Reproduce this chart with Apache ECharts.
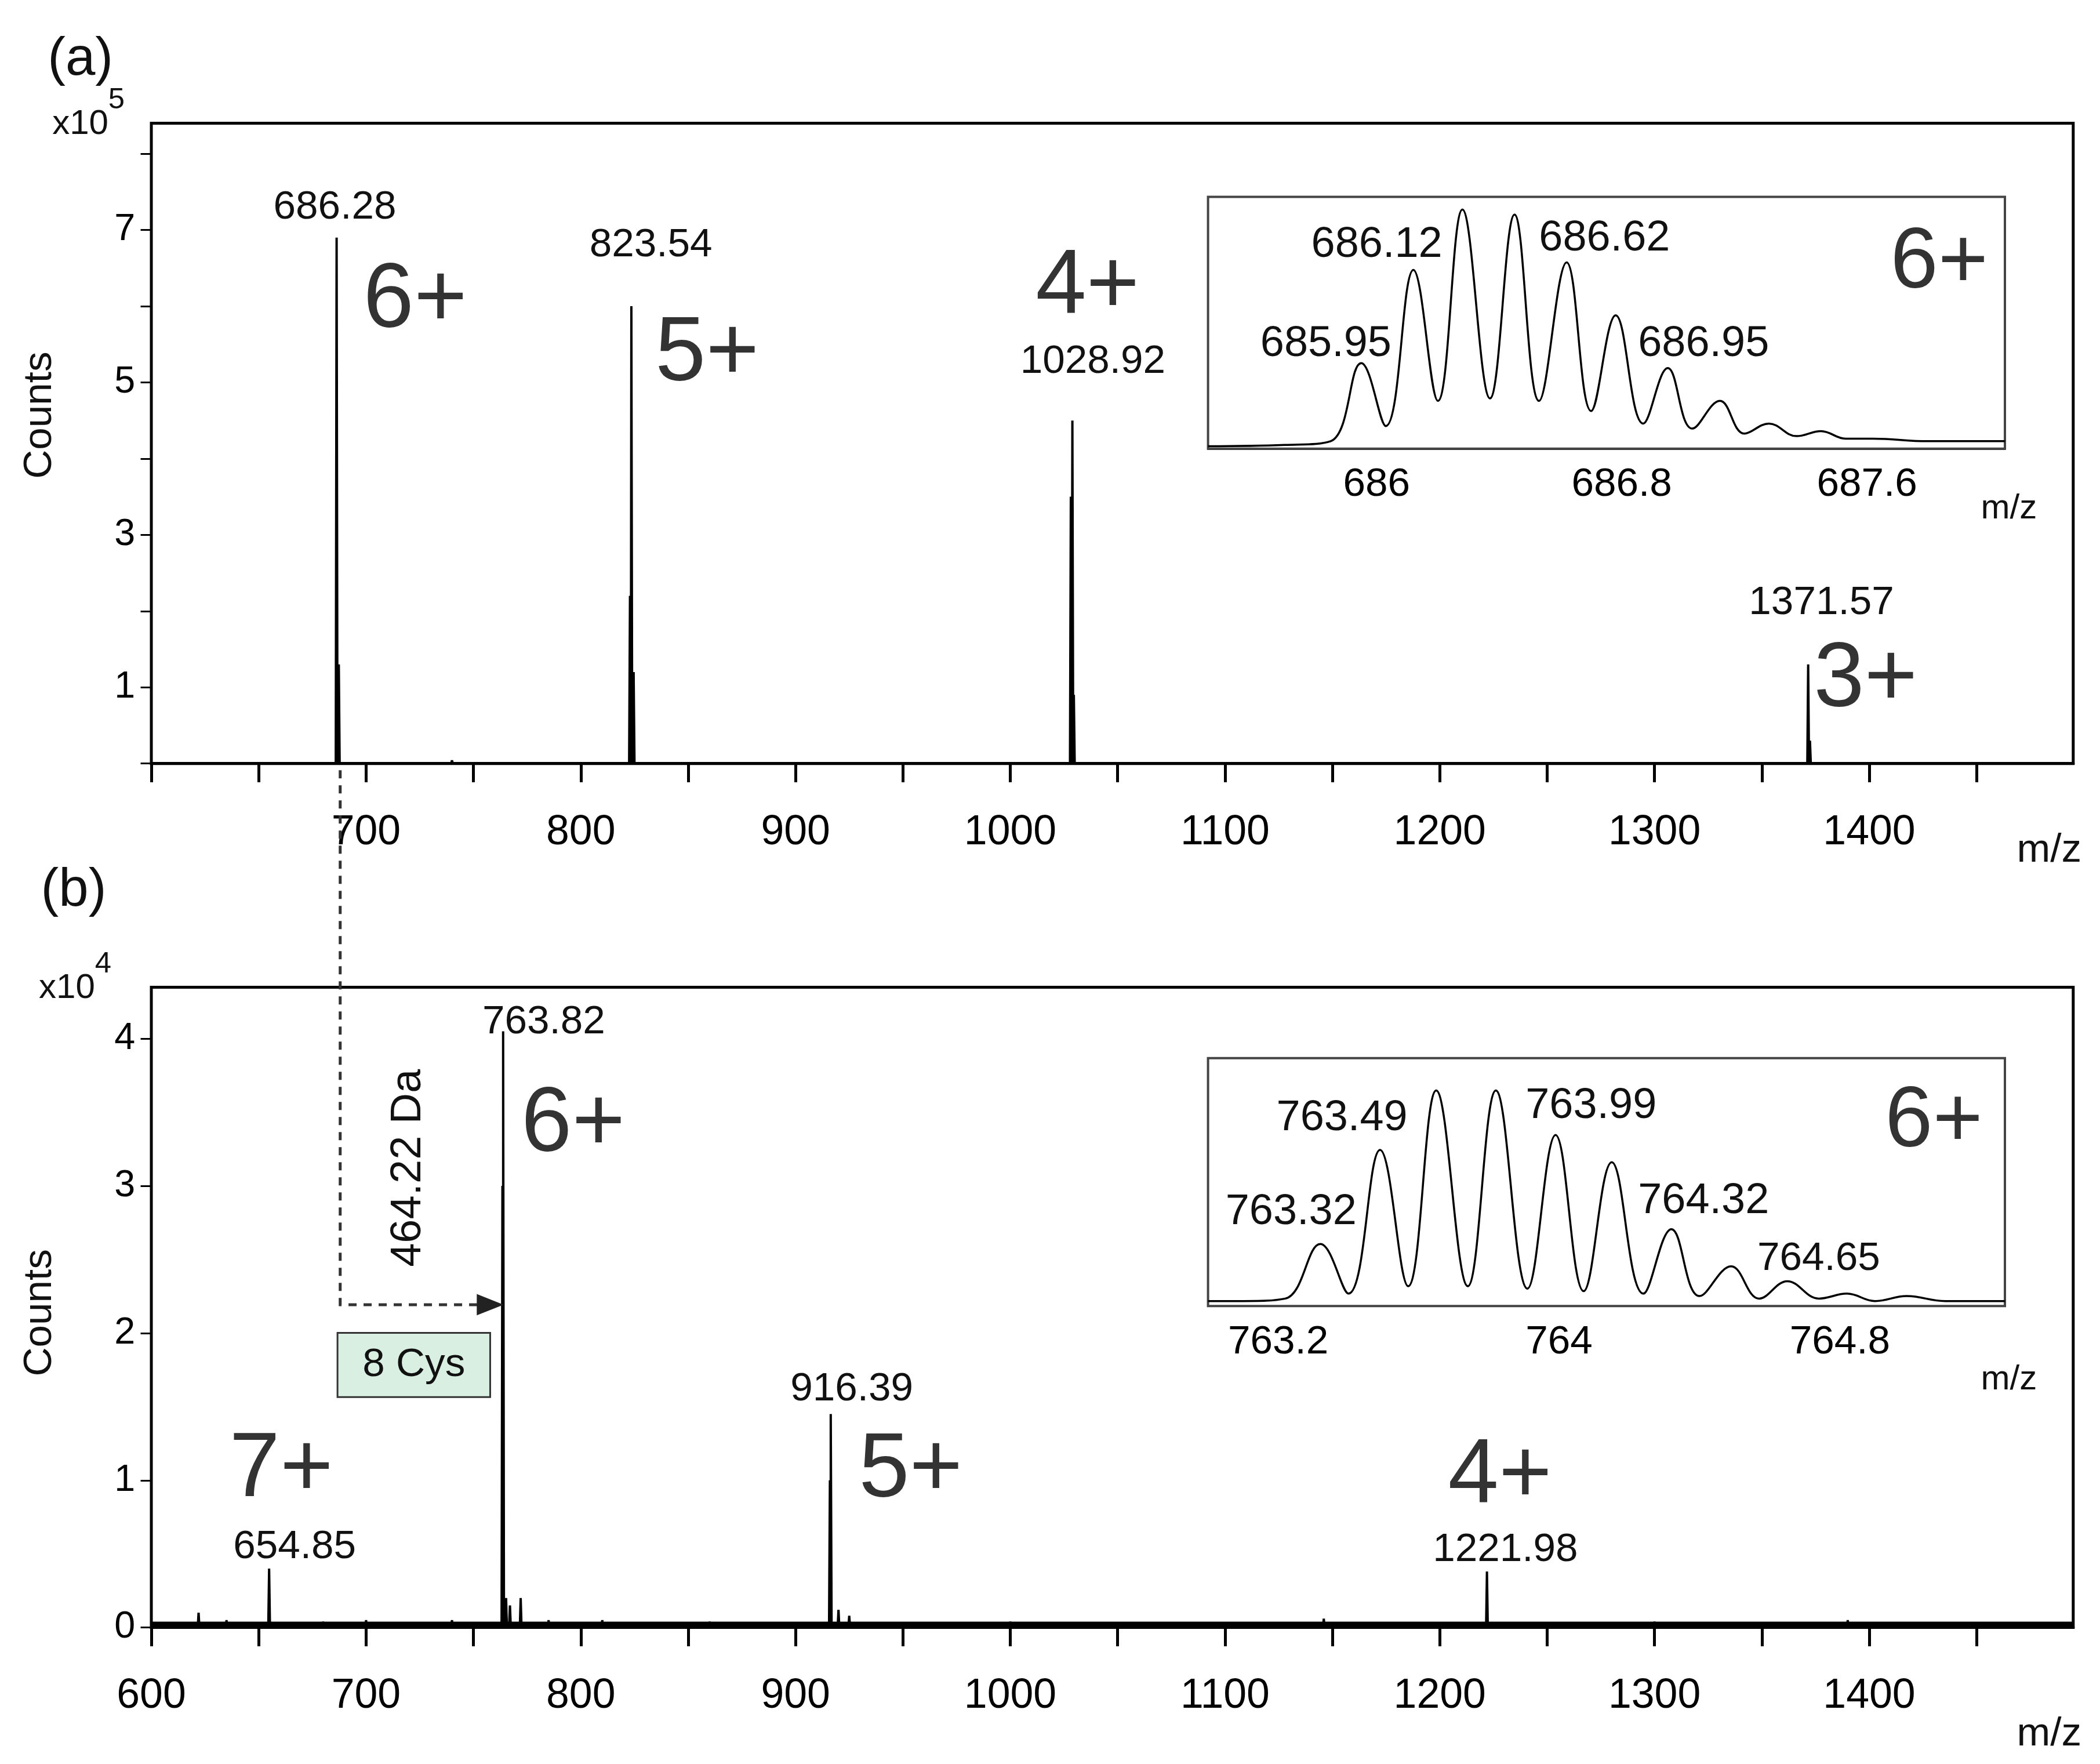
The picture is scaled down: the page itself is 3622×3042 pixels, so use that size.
<!DOCTYPE html>
<html><head><meta charset="utf-8">
<script src="https://cdn.jsdelivr.net/npm/echarts@6/dist/echarts.min.js"></script>
<style>html,body{margin:0;padding:0;background:#fff}#c{width:3622px;height:3042px}</style>
</head><body><div id="c"></div>
<script>
// Panel (a) main peaks: m/z and counts (x10^5)
const aMz = [686.28, 687.3, 740, 822.9, 823.54, 824.6, 1028.2, 1028.92, 1029.6, 1371.57, 1372.4];
const aCnt = [6.9, 1.3, 0.04, 2.2, 6.0, 1.2, 3.5, 4.5, 0.9, 1.3, 0.3];
// Panel (b) main peaks: counts (x10^4)
const bMz = [622, 635, 654.85, 680, 700, 740, 763.5, 763.82, 765.2, 767, 772, 785, 810, 860, 916.0, 916.39, 920, 925, 1000, 1146, 1221.98, 1300, 1390];
const bCnt = [0.1, 0.05, 0.4, 0.04, 0.05, 0.05, 3.0, 4.05, 0.2, 0.15, 0.2, 0.05, 0.05, 0.04, 1.0, 1.45, 0.12, 0.08, 0.04, 0.06, 0.38, 0.04, 0.05];
// Inset (a) isotope profile (relative)
const iaMz = [685.45, 685.7, 685.85, 685.95, 686.03, 686.12, 686.2, 686.28, 686.37, 686.45, 686.53, 686.62, 686.7, 686.78, 686.87, 686.95, 687.03, 687.12, 687.2, 687.28, 687.37, 687.45, 687.53, 687.62, 687.8, 688.05];
const iaInt = [0.01, 0.015, 0.03, 0.34, 0.09, 0.71, 0.19, 0.95, 0.2, 0.93, 0.19, 0.74, 0.15, 0.53, 0.1, 0.32, 0.08, 0.19, 0.06, 0.1, 0.05, 0.07, 0.04, 0.04, 0.03, 0.03];
// Inset (b) isotope profile (relative)
const ibMz = [763.0, 763.1, 763.22, 763.32, 763.4, 763.49, 763.57, 763.65, 763.74, 763.82, 763.91, 763.99, 764.07, 764.15, 764.24, 764.32, 764.4, 764.49, 764.57, 764.65, 764.74, 764.82, 764.9, 764.99, 765.1, 765.27];
const ibInt = [0.02, 0.02, 0.03, 0.25, 0.05, 0.63, 0.08, 0.87, 0.08, 0.87, 0.07, 0.69, 0.06, 0.58, 0.05, 0.31, 0.04, 0.16, 0.03, 0.1, 0.03, 0.05, 0.02, 0.04, 0.02, 0.02];

const S = 3622/1568;
const P = v => v*S;
function sticks(mz, cnt, w){
  const d = [[600,0]];
  mz.forEach((m,i)=>{ d.push([m-w,0],[m,cnt[i]],[m+w,0]); });
  d.push([1495,0]);
  return d;
}
const FONT = '"Liberation Sans", Arial, sans-serif';
const tickFmt = (hide600) => v => (v%100===0 && !(hide600 && v===600)) ? String(v) : '';
function mainX(gi, hide600, margin){
  return {gridIndex:gi, type:'value', min:600, max:1495, interval:50,
    axisLine:{onZero:false, lineStyle:{color:'#000', width:5}},
    axisTick:{length:P(14), lineStyle:{color:'#000', width:5}},
    axisLabel:{formatter:tickFmt(hide600), color:'#000', fontSize:P(31), fontFamily:FONT, margin:P(margin), showMaxLabel:false},
    splitLine:{show:false}};
}
function insetX(gi, min, max, mod){
  return {gridIndex:gi, type:'value', min:min, max:max, interval:0.05,
    axisLine:{onZero:false, lineStyle:{color:'#000', width:3}},
    axisTick:{inside:true, length:P(6), lineStyle:{color:'#000', width:2}},
    axisLabel:{formatter:v=>{const k=Math.round(v*20); return k%16===mod ? String(Math.round(v*10)/10) : '';}, color:'#000', fontSize:P(30), fontFamily:FONT, margin:P(12), showMaxLabel:false, showMinLabel:false},
    splitLine:{show:false}};
}
function insetY(gi){
  return {gridIndex:gi, type:'value', min:0, max:1, interval:0.1,
    axisLine:{lineStyle:{color:'#000', width:3}},
    axisTick:{inside:true, length:P(6), lineStyle:{color:'#000', width:2}},
    axisLabel:{show:false}, splitLine:{show:false}};
}
const chart = echarts.init(document.getElementById('c'));
const txt = (t,x,y,fs,extra) => ({type:'text', z:100, style:Object.assign({text:t, x:P(x), y:P(y), font:`${P(fs)}px ${FONT}`, fill:'#111', textAlign:'center', textVerticalAlign:'middle'}, extra||{})});
const big = (t,x,y,fs) => txt(t,x,y,fs||68,{fill:'#333'});
const vtxt = (t,x,y,fs) => ({type:'text', z:100, rotation:Math.PI/2, x:P(x), y:P(y), style:{text:t, font:`${P(fs)}px ${FONT}`, fill:'#111', textAlign:'center', textVerticalAlign:'middle'}});
chart.setOption({
  animation:false,
  backgroundColor:'#fff',
  grid:[
    {left:P(113), top:P(92), width:P(1435), height:P(478), show:true, borderColor:'#000', borderWidth:5},
    {left:P(113), top:P(737), width:P(1435), height:P(478), show:true, borderColor:'#000', borderWidth:5},
    {left:P(902), top:P(147), width:P(595), height:P(188), show:true, borderColor:'#444', borderWidth:4, z:5, backgroundColor:'#fff'},
    {left:P(902), top:P(790), width:P(595), height:P(185), show:true, borderColor:'#444', borderWidth:4, z:5, backgroundColor:'#fff'}
  ],
  xAxis:[mainX(0,true,36), mainX(1,false,36), insetX(2,685.45,688.05,8), insetX(3,763.0,765.27,0)],
  yAxis:[
    {gridIndex:0, type:'value', min:0, max:8.4, interval:1,
     axisLine:{show:false}, axisTick:{length:P(8), lineStyle:{color:'#000',width:3}},
     axisLabel:{formatter:v=>(v%2===1)?String(v):'', color:'#000', fontSize:P(28), fontFamily:FONT, margin:P(12), showMaxLabel:false}, splitLine:{show:false}},
    {gridIndex:1, type:'value', min:0, max:4.35, interval:1,
     axisLine:{show:false}, axisTick:{length:P(8), lineStyle:{color:'#000',width:3}},
     axisLabel:{color:'#000', fontSize:P(28), fontFamily:FONT, margin:P(12), showMaxLabel:false}, splitLine:{show:false}},
    insetY(2), insetY(3)
  ],
  series:[
    {type:'line', xAxisIndex:0, yAxisIndex:0, data:sticks(aMz,aCnt,0.4), symbol:'none', lineStyle:{color:'#000', width:4}},
    {type:'line', xAxisIndex:1, yAxisIndex:1, data:sticks(bMz,bCnt,0.4), symbol:'none', lineStyle:{color:'#000', width:4}},
    {type:'line', xAxisIndex:1, yAxisIndex:1, data:[[600,0.02],[1495,0.02]], symbol:'none', lineStyle:{color:'#000', width:10}},
    {type:'line', xAxisIndex:2, yAxisIndex:2, data:iaMz.map((m,i)=>[m,iaInt[i]]), smooth:0.4, symbol:'none', lineStyle:{color:'#000', width:3.5}, z:6},
    {type:'line', xAxisIndex:3, yAxisIndex:3, data:ibMz.map((m,i)=>[m,ibInt[i]]), smooth:0.4, symbol:'none', lineStyle:{color:'#000', width:3.5}, z:6}
  ],
  graphic:[
    txt('(a)',60,45,40), txt('(b)',55,665,40),
    txt('x10',60,93,26), txt('5',87,75,22),
    txt('x10',50,738,26), txt('4',77,720,22),
    vtxt('Counts',30,310,30), vtxt('Counts',30,980,30),
    txt('m/z',1530,635,30), txt('m/z',1530,1295,30),
    txt('686.28',250,155,30), big('6+',310,225), txt('823.54',486,183,30), big('5+',528,265),
    big('4+',812,215), txt('1028.92',816,270,30), txt('1371.57',1360,450,30), big('3+',1393,508),
    txt('685.95',990,257,32), txt('686.12',1028,183,32), txt('686.62',1198,178,32), txt('686.95',1272,257,32), big('6+',1448,197,64), txt('m/z',1500,380,26),
    txt('763.32',964,905,32), txt('763.49',1002,835,32), txt('763.99',1188,826,32), txt('764.32',1272,897,32), txt('764.65',1358,940,30), big('6+',1444,838,64), txt('m/z',1500,1030,26),
    txt('763.82',406,763,30), big('6+',428,840), big('7+',210,1098), txt('654.85',220,1155,30),
    txt('916.39',636,1037,30), big('5+',680,1098), big('4+',1120,1103), txt('1221.98',1124,1157,30),
    vtxt('464.22 Da',305,872,32),
    {type:'rect', z:99, shape:{x:P(252), y:P(995), width:P(114), height:P(48)}, style:{fill:'#d8efe2', stroke:'#333', lineWidth:3}},
    txt('8 Cys',309,1019,30),
    {type:'polyline', z:99, shape:{points:[[P(254),P(575)],[P(254),P(974)],[P(358),P(974)]]}, style:{stroke:'#333', lineWidth:5, lineDash:[14,12], fill:null}},
    {type:'polygon', z:99, shape:{points:[[P(356),P(966)],[P(376),P(974)],[P(356),P(982)]]}, style:{fill:'#222'}}
  ]
});
</script></body></html>
